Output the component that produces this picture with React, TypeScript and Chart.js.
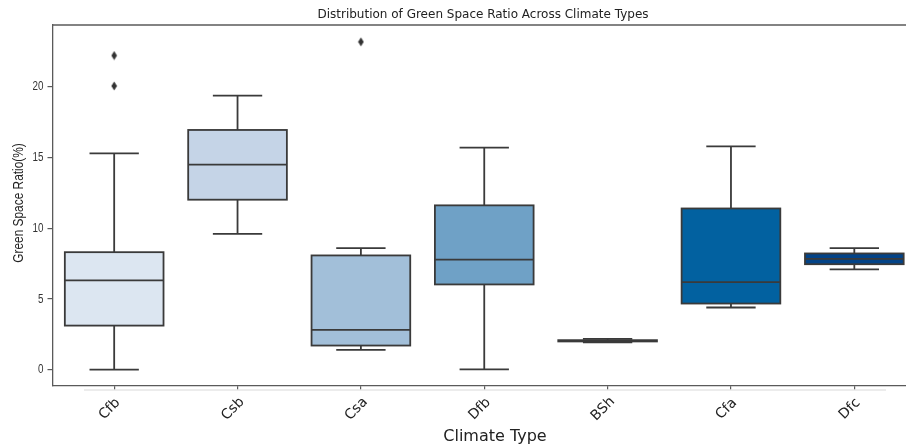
import React, { useEffect, useRef } from "react";
import { Chart, registerables } from "chart.js";

Chart.register(...registerables);

// Climate types on the x axis
const CATEGORIES = ["Cfb", "Csb", "Csa", "Dfb", "BSh", "Cfa", "Dfc"];

// Five-number summaries of the green space ratio (%) per climate type
const WHISKER_LOW = [0.0, 9.6, 1.39, 0.02, 1.92, 4.39, 7.08];
const Q1 = [3.11, 12.01, 1.7, 6.02, 1.99, 4.67, 7.45];
const MEDIAN = [6.3, 14.49, 2.81, 7.78, 2.03, 6.18, 7.83];
const Q3 = [8.3, 16.94, 8.07, 11.61, 2.08, 11.39, 8.21];
const WHISKER_HIGH = [15.29, 19.37, 8.59, 15.69, 2.17, 15.78, 8.59];

// Points beyond the whiskers
const OUTLIER_CATS = ["Cfb", "Cfb", "Csa"];
const OUTLIER_VALUES = [22.2, 20.05, 23.17];

const Y_TICKS = [0, 5, 10, 15, 20];
const Y_MIN = -1.16;
const Y_MAX = 24.36;

const BOX_COLORS = [
  "#dce6f1",
  "#c5d4e7",
  "#a2bfd9",
  "#6fa1c6",
  "#3f85bb",
  "#0261a0",
  "#034387",
];

const EDGE = "#3a3a3a";
const SPINE = "#5a5a5a";
const TEXT = "#222222";
const NARROW = 0.82;

function diamondImage(): HTMLCanvasElement {
  const c = document.createElement("canvas");
  c.width = 7;
  c.height = 10;
  const g = c.getContext("2d")!;
  g.fillStyle = "#333333";
  g.beginPath();
  g.moveTo(3.5, 0.5);
  g.lineTo(6.3, 5);
  g.lineTo(3.5, 9.5);
  g.lineTo(0.7, 5);
  g.closePath();
  g.fill();
  return c;
}

// Whiskers, caps, box outlines and medians on top of the floating bars
const boxDetails = {
  id: "boxDetails",
  afterDatasetsDraw(chart: any) {
    const ctx = chart.ctx;
    const y = chart.scales.y;
    const meta = chart.getDatasetMeta(0);
    ctx.save();
    ctx.strokeStyle = EDGE;
    ctx.lineWidth = 1.8;
    ctx.lineCap = "butt";
    meta.data.forEach((bar: any, i: number) => {
      const { x: cx, width } = bar.getProps(["x", "width"], true);
      const half = width / 2;
      const capHalf = half / 2;
      const yLow = y.getPixelForValue(WHISKER_LOW[i]);
      const yQ1 = y.getPixelForValue(Q1[i]);
      const yMed = y.getPixelForValue(MEDIAN[i]);
      const yQ3 = y.getPixelForValue(Q3[i]);
      const yHigh = y.getPixelForValue(WHISKER_HIGH[i]);

      ctx.beginPath();
      ctx.moveTo(cx, yQ1);
      ctx.lineTo(cx, yLow);
      ctx.moveTo(cx, yQ3);
      ctx.lineTo(cx, yHigh);
      ctx.moveTo(cx - capHalf, yLow);
      ctx.lineTo(cx + capHalf, yLow);
      ctx.moveTo(cx - capHalf, yHigh);
      ctx.lineTo(cx + capHalf, yHigh);
      ctx.stroke();

      ctx.strokeRect(cx - half, yQ3, width, yQ1 - yQ3);

      ctx.beginPath();
      ctx.moveTo(cx - half, yMed);
      ctx.lineTo(cx + half, yMed);
      ctx.stroke();
    });
    ctx.restore();
  },
};

// Frame, title, axis titles, value ticks and rotated category labels
const frameText = {
  id: "frameText",
  afterDraw(chart: any) {
    const ctx = chart.ctx;
    const area = chart.chartArea;
    const xs = chart.scales.x;
    const ys = chart.scales.y;
    ctx.save();

    // top spine
    ctx.strokeStyle = SPINE;
    ctx.lineWidth = 1.3;
    ctx.beginPath();
    ctx.moveTo(area.left, area.top);
    ctx.lineTo(area.right, area.top);
    ctx.stroke();

    // faint rule under the x axis
    ctx.strokeStyle = "#e6e6e6";
    ctx.lineWidth = 1.5;
    ctx.beginPath();
    ctx.moveTo(84, area.bottom + 4);
    ctx.lineTo(886, area.bottom + 4);
    ctx.stroke();

    ctx.fillStyle = TEXT;

    // chart title
    ctx.font = "12px 'DejaVu Sans'";
    ctx.textAlign = "center";
    ctx.textBaseline = "middle";
    ctx.fillText("Distribution of Green Space Ratio Across Climate Types", 483, 14.5);

    // value tick labels, narrow face
    ctx.fillStyle = "#333333";
    ctx.font = "12px 'Liberation Sans'";
    ctx.textAlign = "right";
    ctx.textBaseline = "middle";
    Y_TICKS.forEach((v) => {
      const py = ys.getPixelForValue(v);
      ctx.save();
      ctx.translate(43.5, py + 0.5);
      ctx.scale(NARROW, 1);
      ctx.fillText(String(v), 0, 0);
      ctx.restore();
    });

    ctx.fillStyle = TEXT;

    // category labels, rotated 45 degrees
    ctx.font = "14px 'DejaVu Sans'";
    CATEGORIES.forEach((label, i) => {
      const px = xs.getPixelForValue(i) - 4.5;
      ctx.save();
      ctx.translate(px, area.bottom + 23);
      ctx.rotate(-Math.PI / 4);
      ctx.textAlign = "center";
      ctx.textBaseline = "middle";
      ctx.fillText(label, 0, 0);
      ctx.restore();
    });

    // x axis title
    ctx.font = "16px 'DejaVu Sans'";
    ctx.textAlign = "center";
    ctx.textBaseline = "alphabetic";
    ctx.fillText("Climate Type", 495, 441);

    // y axis title, narrow face
    ctx.save();
    ctx.translate(18.5, 203);
    ctx.rotate(-Math.PI / 2);
    ctx.scale(NARROW, 1);
    ctx.font = "14.5px 'Liberation Sans'";
    ctx.textAlign = "center";
    ctx.textBaseline = "middle";
    ctx.fillText("Green Space Ratio(%)", 0, 0);
    ctx.restore();

    ctx.restore();
  },
};

export default function App() {
  const canvasRef = useRef<HTMLCanvasElement | null>(null);

  useEffect(() => {
    if (!canvasRef.current) return;
    const boxes = CATEGORIES.map((_, i) => [Q1[i], Q3[i]]);
    const outliers = OUTLIER_CATS.map((c, i) => ({ x: c, y: OUTLIER_VALUES[i] }));
    const marker = diamondImage();

    const chart = new Chart(canvasRef.current, {
      type: "bar",
      data: {
        labels: CATEGORIES,
        datasets: [
          {
            type: "bar",
            data: boxes as any,
            backgroundColor: BOX_COLORS,
            borderWidth: 0,
            barPercentage: 0.8,
            categoryPercentage: 1,
          },
          {
            type: "scatter",
            data: outliers as any,
            pointStyle: marker as any,
            pointRadius: 4,
          } as any,
        ],
      },
      options: {
        animation: false,
        responsive: false,
        maintainAspectRatio: false,
        layout: { padding: { top: 25, right: 10, left: 0, bottom: 0 } },
        plugins: {
          legend: { display: false },
          title: { display: false },
          tooltip: { enabled: false },
        },
        scales: {
          x: {
            type: "category",
            offset: true,
            grid: {
              offset: false,
              drawOnChartArea: false,
              tickLength: 4,
              color: SPINE,
              lineWidth: 1.2,
            },
            border: { display: true, color: SPINE, width: 1.3 },
            ticks: { display: false },
            afterFit: (s: any) => {
              s.height = 60;
            },
          },
          y: {
            min: Y_MIN,
            max: Y_MAX,
            afterBuildTicks: (s: any) => {
              s.ticks = Y_TICKS.map((v) => ({ value: v }));
            },
            grid: {
              drawOnChartArea: false,
              tickLength: 5,
              color: SPINE,
              lineWidth: 1.2,
            },
            border: { display: true, color: SPINE, width: 1.3 },
            ticks: { display: false },
            afterFit: (s: any) => {
              s.width = 52.5;
            },
          },
        },
      },
      plugins: [boxDetails, frameText],
    });
    return () => chart.destroy();
  }, []);

  return (
    <div
      style={{
        position: "fixed",
        left: 0,
        top: 0,
        width: 906,
        height: 446,
        overflow: "hidden",
        background: "#ffffff",
      }}
    >
      <canvas ref={canvasRef} width={926} height={446} style={{ display: "block" }} />
    </div>
  );
}
